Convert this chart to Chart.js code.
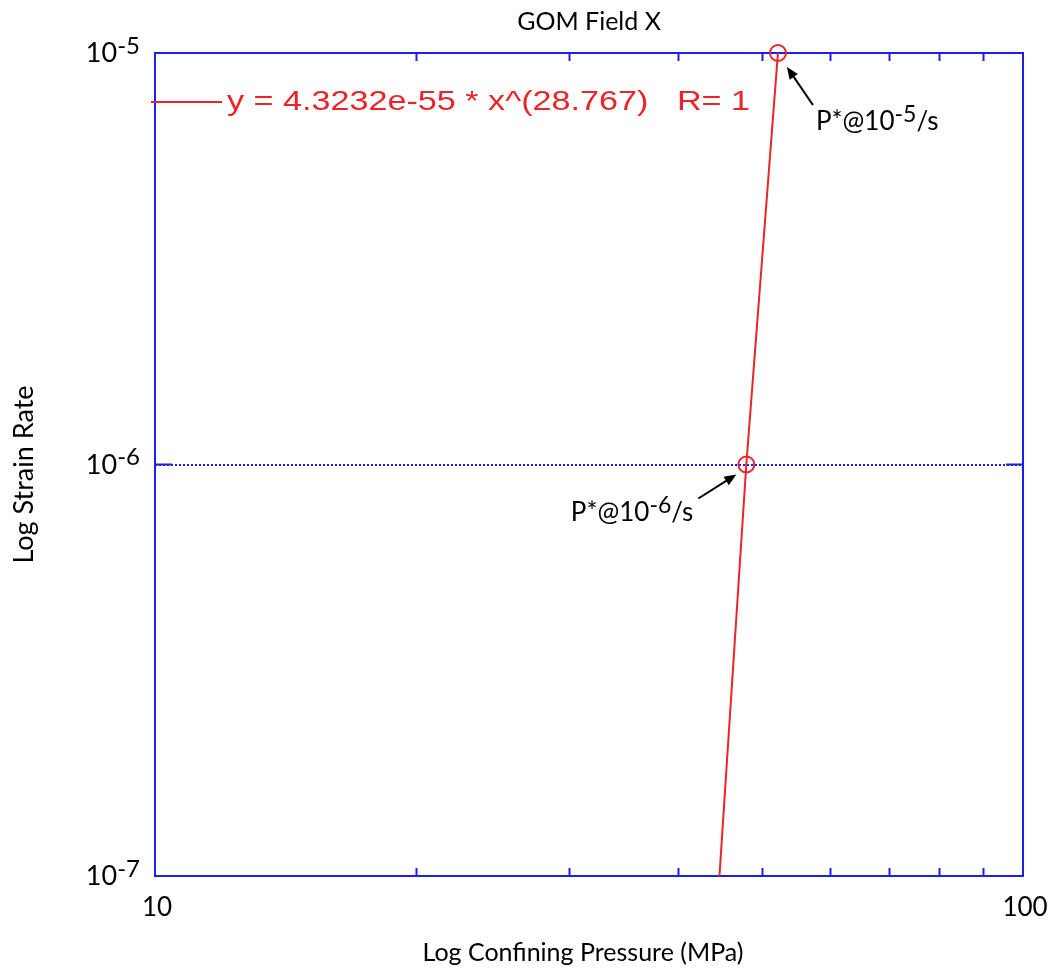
<!DOCTYPE html>
<html>
<head>
<meta charset="utf-8">
<script src="https://cdn.jsdelivr.net/npm/chart.js@4.4.0/dist/chart.umd.min.js"></script>
<style>
body { margin: 0; background: #fff; }
#contenedor { width: 1060px; height: 970px; position: relative; }
</style>
</head>
<body>
<div id="contenedor"><canvas id="grafico"></canvas></div>
<script>
// Datos
const titulo = 'GOM Field X';
const tituloX = 'Log Confining Pressure (MPa)';
const tituloY = 'Log Strain Rate';
const ajusteX = [44.7, 48.0, 52.2];      // presion de confinamiento (MPa)
const ajusteY = [1e-7, 1e-6, 1e-5];      // tasa de deformacion
const puntosX = [52.2, 48.0];
const puntosY = [1e-5, 1e-6];
const etiquetasPuntos = [['P*@10', '-5', '/s'], ['P*@10', '-6', '/s']];
const ticksX = [10, 100];
const etiquetasX = ['10', '100'];
const menoresX = [20, 30, 40, 50, 60, 70, 80, 90];
const ticksY = [1e-7, 1e-6, 1e-5];
const exponentesY = ['-7', '-6', '-5'];
const textoAjuste = 'y = 4.3232e-55 * x^(28.767)   R= 1';

const AZUL = 'rgb(30,30,232)';
const ROJO = 'rgb(236,36,40)';
const FUENTE = 'Lato, "Open Sans", sans-serif';

// Texto con exponente: [base, exponente, resto]
function textoPotencia(ctx, partes, x, y, size, align) {
    const supSize = Math.round(size * 0.9);
    ctx.font = size + 'px ' + FUENTE;
    const w1 = ctx.measureText(partes[0]).width;
    const w3 = partes[2] ? ctx.measureText(partes[2]).width : 0;
    ctx.font = supSize + 'px ' + FUENTE;
    const w2 = ctx.measureText(partes[1]).width;
    const total = w1 + w2 + w3;
    let x0 = x;
    if (align === 'right') x0 = x - total;
    if (align === 'center') x0 = x - total / 2;
    ctx.textAlign = 'left';
    ctx.textBaseline = 'alphabetic';
    ctx.font = size + 'px ' + FUENTE;
    ctx.fillText(partes[0], x0, y);
    ctx.font = supSize + 'px ' + FUENTE;
    ctx.fillText(partes[1], x0 + w1, y - size * 0.3);
    if (partes[2]) {
        ctx.font = size + 'px ' + FUENTE;
        ctx.fillText(partes[2], x0 + w1 + w2, y);
    }
}

function flecha(ctx, x1, y1, x2, y2) {
    const ang = Math.atan2(y2 - y1, x2 - x1);
    const largo = 12, ancho = 5;
    ctx.strokeStyle = '#000';
    ctx.fillStyle = '#000';
    ctx.lineWidth = 2;
    ctx.beginPath();
    ctx.moveTo(x1, y1);
    ctx.lineTo(x2 - Math.cos(ang) * largo * 0.8, y2 - Math.sin(ang) * largo * 0.8);
    ctx.stroke();
    ctx.beginPath();
    ctx.moveTo(x2, y2);
    ctx.lineTo(x2 - Math.cos(ang) * largo - Math.sin(ang) * ancho, y2 - Math.sin(ang) * largo + Math.cos(ang) * ancho);
    ctx.lineTo(x2 - Math.cos(ang) * largo + Math.sin(ang) * ancho, y2 - Math.sin(ang) * largo - Math.cos(ang) * ancho);
    ctx.closePath();
    ctx.fill();
}

// Marco azul y marcas hacia adentro
const pluginMarco = {
    id: 'marco',
    beforeDatasetsDraw(chart) {
        const { ctx, chartArea: a, scales } = chart;
        ctx.save();
        ctx.strokeStyle = AZUL;
        ctx.lineWidth = 2;
        ctx.strokeRect(a.left, a.top, a.right - a.left, a.bottom - a.top);
        ctx.beginPath();
        menoresX.forEach(v => {
            const px = Math.round(scales.x.getPixelForValue(v)) + 0.5;
            ctx.moveTo(px, a.bottom); ctx.lineTo(px, a.bottom - 8);
            ctx.moveTo(px, a.top); ctx.lineTo(px, a.top + 8);
        });
        ctx.stroke();
        ctx.beginPath();
        ticksY.forEach(v => {
            const py = scales.y.getPixelForValue(v);
            ctx.moveTo(a.left, py); ctx.lineTo(a.left + 17, py);
            ctx.moveTo(a.right, py); ctx.lineTo(a.right - 17, py);
        });
        ctx.stroke();
        ctx.restore();
    },
    afterDraw(chart) {
        const { ctx, chartArea: a, scales } = chart;
        ctx.save();
        ctx.fillStyle = '#000';

        // titulo
        ctx.font = '25px ' + FUENTE;
        ctx.textAlign = 'center';
        ctx.fillText(titulo, (a.left + a.right) / 2, 30);

        // titulos de ejes
        ctx.font = '25px ' + FUENTE;
        ctx.fillText(tituloX, (a.left + a.right) / 2 - 6, 961);
        ctx.save();
        ctx.translate(33, (a.top + a.bottom) / 2 + 10);
        ctx.rotate(-Math.PI / 2);
        ctx.font = '27px ' + FUENTE;
        ctx.fillText(tituloY, 0, 0);
        ctx.restore();

        // etiquetas de x
        ticksX.forEach((v, i) => {
            ctx.font = '26px ' + FUENTE;
            ctx.textAlign = 'center';
            ctx.fillText(etiquetasX[i], scales.x.getPixelForValue(v) + 2, a.bottom + 40);
        });
        // etiquetas de y
        ticksY.forEach((v, i) => {
            textoPotencia(ctx, ['10', exponentesY[i], ''], a.left - 15, scales.y.getPixelForValue(v) + 9, 27, 'right');
        });

        // leyenda del ajuste
        ctx.strokeStyle = ROJO;
        ctx.lineWidth = 2;
        ctx.beginPath();
        ctx.moveTo(a.left - 4, 102);
        ctx.lineTo(a.left + 67, 102);
        ctx.stroke();
        ctx.fillStyle = ROJO;
        ctx.font = '28px "Liberation Sans", Arial, sans-serif';
        ctx.textAlign = 'left';
        const ancho = ctx.measureText(textoAjuste).width;
        ctx.save();
        ctx.translate(a.left + 72, 110);
        ctx.scale(523 / ancho, 1);
        ctx.fillText(textoAjuste, 0, 0);
        ctx.restore();

        // anotaciones de los puntos
        ctx.fillStyle = '#000';
        const p1 = { x: scales.x.getPixelForValue(puntosX[0]), y: scales.y.getPixelForValue(puntosY[0]) };
        const p2 = { x: scales.x.getPixelForValue(puntosX[1]), y: scales.y.getPixelForValue(puntosY[1]) };
        flecha(ctx, p1.x + 35, p1.y + 52, p1.x + 9, p1.y + 14);
        textoPotencia(ctx, etiquetasPuntos[0], p1.x + 38, p1.y + 77, 26, 'left');
        flecha(ctx, p2.x - 48, p2.y + 34, p2.x - 10, p2.y + 10);
        ctx.fillStyle = '#000';
        textoPotencia(ctx, etiquetasPuntos[1], p2.x - 53, p2.y + 56, 26, 'right');
        ctx.restore();
    }
};

const canvas = document.getElementById('grafico');

new Chart(canvas, {
    type: 'line',
    data: {
        datasets: [
            {
                data: ajusteX.map((x, i) => ({ x: x, y: ajusteY[i] })),
                borderColor: ROJO,
                borderWidth: 2,
                pointRadius: 0,
                tension: 0,
                clip: false
            },
            {
                data: puntosX.map((x, i) => ({ x: x, y: puntosY[i] })),
                showLine: false,
                pointRadius: 8,
                pointBorderColor: ROJO,
                pointBackgroundColor: 'rgba(0,0,0,0)',
                pointBorderWidth: 2,
                clip: false
            }
        ]
    },
    options: {
        responsive: true,
        maintainAspectRatio: false,
        animation: false,
        layout: { padding: { left: 155, right: 37, top: 53, bottom: 94 } },
        plugins: {
            legend: { display: false },
            tooltip: { enabled: false },
            title: { display: false }
        },
        scales: {
            x: {
                type: 'logarithmic',
                min: 10,
                max: 100,
                ticks: { display: false },
                grid: { display: false, drawTicks: false },
                border: { display: false }
            },
            y: {
                type: 'logarithmic',
                min: 1e-7,
                max: 1e-5,
                afterBuildTicks: scale => {
                    scale.ticks = ticksY.map(v => ({ value: v }));
                },
                ticks: { display: false },
                grid: { color: AZUL, lineWidth: 2, drawTicks: false },
                border: { display: false, dash: [2, 2] }
            }
        }
    },
    plugins: [pluginMarco]
});
</script>
</body>
</html>
